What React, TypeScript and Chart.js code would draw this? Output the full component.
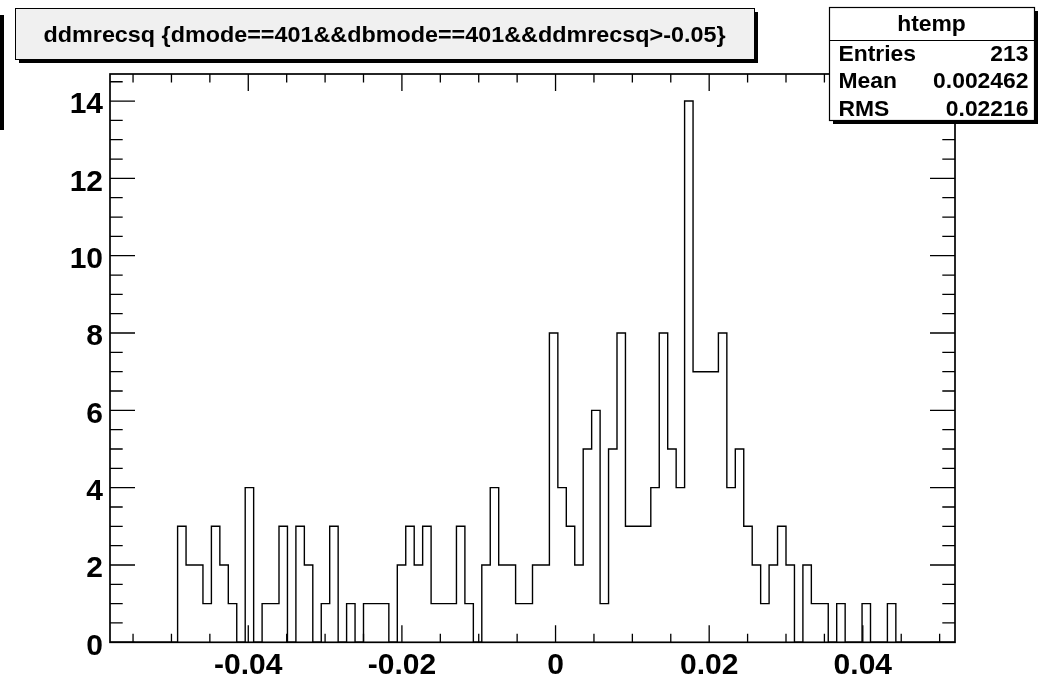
import React, { useEffect, useRef } from "react";
import { Chart, registerables } from "chart.js";

Chart.register(...registerables);

// ---- data ----
const xMin = -0.058;
const xMax = 0.052;
const binCounts = [
  0, 0, 0, 0, 0, 0, 0, 0, 3, 2,
  2, 1, 3, 2, 1, 0, 4, 0, 1, 1,
  3, 0, 3, 2, 0, 1, 3, 0, 1, 0,
  1, 1, 1, 0, 2, 3, 2, 3, 1, 1,
  1, 3, 1, 0, 2, 4, 2, 2, 1, 1,
  2, 2, 8, 4, 3, 2, 5, 6, 1, 5,
  8, 3, 3, 3, 4, 8, 5, 4, 14, 7,
  7, 7, 8, 4, 5, 3, 2, 1, 2, 3,
  2, 0, 2, 1, 1, 0, 1, 0, 0, 1,
  0, 0, 1, 0, 0, 0, 0, 0, 0, 0,
];
const xTickValues = [-0.04, -0.02, 0, 0.02, 0.04];
const xTickLabels = ["-0.04", "-0.02", "0", "0.02", "0.04"];
const xMinorStep = 0.005;
const yMax = 14.7;
const yTickValues = [0, 2, 4, 6, 8, 10, 12, 14];
const yTickLabels = ["0", "2", "4", "6", "8", "10", "12", "14"];
const yMinorStep = 0.5;
const titleText = "ddmrecsq {dmode==401&&dbmode==401&&ddmrecsq>-0.05}";
const statsName = "htemp";
const statsLabels = ["Entries", "Mean", "RMS"];
const statsValues = ["213", "0.002462", "0.02216"];

const FONT = "'Liberation Sans', Arial, Helvetica, sans-serif";

function drawScaledText(
  ctx: CanvasRenderingContext2D,
  text: string,
  x: number,
  y: number,
  align: CanvasTextAlign,
  sx: number
) {
  ctx.save();
  ctx.translate(x, y);
  ctx.scale(sx, 1);
  ctx.textAlign = align;
  ctx.textBaseline = "alphabetic";
  ctx.fillText(text, 0, 0);
  ctx.restore();
}

const rootPlugin = {
  id: "rootDecor",
  afterDatasetsDraw(chart: any) {
    const { ctx, chartArea, scales } = chart;
    const { left, right, top, bottom } = chartArea;
    const xs = scales.x;
    const ys = scales.y;
    ctx.save();
    ctx.strokeStyle = "#000";
    ctx.lineWidth = 1.3;
    ctx.beginPath();
    const k0 = Math.ceil(xMin / xMinorStep - 1e-9);
    for (let k = k0; k * xMinorStep <= xMax + 1e-9; k++) {
      const v = k * xMinorStep;
      const major = xTickValues.some((t) => Math.abs(t - v) < 1e-9);
      const px = xs.getPixelForValue(v);
      const len = major ? 17 : 8.5;
      ctx.moveTo(px, bottom);
      ctx.lineTo(px, bottom - len);
      ctx.moveTo(px, top);
      ctx.lineTo(px, top + len);
    }
    for (let k = 0; k * yMinorStep <= yMax + 1e-9; k++) {
      const v = k * yMinorStep;
      const major = yTickValues.some((t) => Math.abs(t - v) < 1e-9);
      const py = ys.getPixelForValue(v);
      const len = major ? 25 : 12.7;
      ctx.moveTo(left, py);
      ctx.lineTo(left + len, py);
      ctx.moveTo(right, py);
      ctx.lineTo(right - len, py);
    }
    ctx.stroke();
    ctx.lineWidth = 1.7;
    ctx.strokeRect(left, top, right - left, bottom - top);
    ctx.restore();
  },
  afterDraw(chart: any) {
    const ctx: CanvasRenderingContext2D = chart.ctx;
    ctx.save();
    // clipped black bar at the far left
    ctx.fillStyle = "#000";
    ctx.fillRect(0, 15, 4, 115);

    // title box with shadow
    ctx.fillStyle = "#000";
    ctx.fillRect(19, 12, 739, 51);
    ctx.fillStyle = "#f0f0f0";
    ctx.fillRect(15, 8.5, 739, 51);
    ctx.strokeStyle = "#000";
    ctx.lineWidth = 1;
    ctx.strokeRect(15.5, 8.5, 739, 51);
    ctx.fillStyle = "#000";
    ctx.font = `bold 22px ${FONT}`;
    const tw = ctx.measureText(titleText).width;
    drawScaledText(ctx, titleText, 384.5, 41.5, "center", 682 / tw);

    // stats box with shadow
    ctx.fillStyle = "#000";
    ctx.fillRect(833, 11, 205, 113);
    ctx.fillStyle = "#fff";
    ctx.fillRect(829, 7.5, 205, 113);
    ctx.strokeStyle = "#000";
    ctx.lineWidth = 1.2;
    ctx.strokeRect(829.5, 7.5, 205, 113);
    ctx.beginPath();
    ctx.moveTo(829.5, 40.5);
    ctx.lineTo(1034.5, 40.5);
    ctx.stroke();
    ctx.fillStyle = "#000";
    ctx.font = `bold 22px ${FONT}`;
    const sx = 1.04;
    drawScaledText(ctx, statsName, 931.5, 30.5, "center", sx);
    statsLabels.forEach((lab, i) => {
      const by = 61 + i * 27.3;
      drawScaledText(ctx, lab, 838.5, by, "left", sx);
      drawScaledText(ctx, statsValues[i], 1028.5, by, "right", sx);
    });
    ctx.restore();
  },
};

export default function App() {
  const ref = useRef<HTMLCanvasElement | null>(null);
  useEffect(() => {
    document.body.style.margin = "0";
    const canvas = ref.current;
    if (!canvas) return;
    const bw = (xMax - xMin) / binCounts.length;
    const points = binCounts.map((c, i) => ({ x: xMin + i * bw, y: c }));
    points.push({ x: xMax, y: binCounts[binCounts.length - 1] });

    const tickFont = { family: FONT, size: 30, weight: "bold" as const };
    const chart = new Chart(canvas, {
      type: "line",
      data: {
        datasets: [
          {
            data: points,
            stepped: "before",
            borderColor: "#000",
            borderWidth: 1.4,
            pointRadius: 0,
            fill: false,
          },
        ],
      },
      options: {
        animation: false,
        responsive: false,
        devicePixelRatio: 1,
        layout: { padding: { left: 0, right: 85, top: 74, bottom: 0 } },
        plugins: {
          legend: { display: false },
          tooltip: { enabled: false },
          title: { display: false },
        },
        scales: {
          x: {
            type: "linear",
            min: xMin,
            max: xMax,
            grid: { display: false, drawTicks: false },
            border: { display: false },
            afterBuildTicks: (s: any) => {
              s.ticks = xTickValues.map((v) => ({ value: v }));
            },
            afterFit: (s: any) => {
              s.height = 37.7;
            },
            ticks: {
              padding: 5,
              font: tickFont,
              color: "#000",
              maxRotation: 0,
              autoSkip: false,
              callback: (v: any) => {
                const i = xTickValues.findIndex((t) => Math.abs(t - Number(v)) < 1e-9);
                return i >= 0 ? xTickLabels[i] : "";
              },
            },
          },
          y: {
            type: "linear",
            min: 0,
            max: yMax,
            grid: { display: false, drawTicks: false },
            border: { display: false },
            afterBuildTicks: (s: any) => {
              s.ticks = yTickValues.map((v) => ({ value: v }));
            },
            afterFit: (s: any) => {
              s.width = 110;
            },
            ticks: {
              padding: 7,
              labelOffset: 4,
              font: tickFont,
              color: "#000",
              autoSkip: false,
              callback: (v: any) => {
                const i = yTickValues.findIndex((t) => Math.abs(t - Number(v)) < 1e-9);
                return i >= 0 ? yTickLabels[i] : "";
              },
            },
          },
        },
      } as any,
      plugins: [rootPlugin],
    });
    return () => chart.destroy();
  }, []);

  return (
    <div style={{ width: 1040, height: 680, background: "#fff" }}>
      <canvas ref={ref} width={1040} height={680} style={{ display: "block" }} />
    </div>
  );
}
